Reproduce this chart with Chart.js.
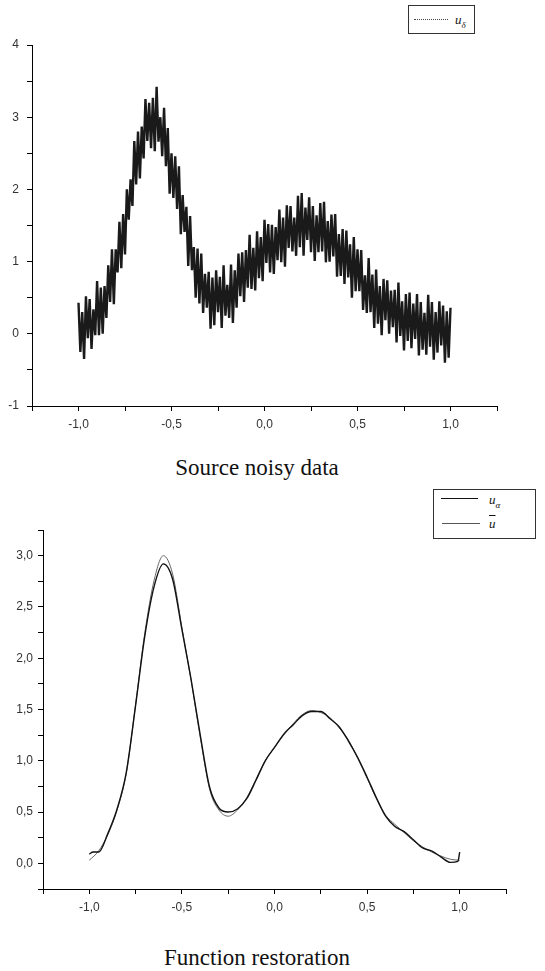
<!DOCTYPE html>
<html>
<head>
<meta charset="utf-8">
<script src="https://cdn.jsdelivr.net/npm/chart.js@4.4.0/dist/chart.umd.min.js"></script>
<style>
  body { margin: 0; background: #fff; }
  #page { position: relative; width: 545px; height: 971px; overflow: hidden; }
  canvas { position: absolute; left: 0; }
  .caption { position: absolute; left: 0; width: 514px; text-align: center; font-family: "Liberation Serif", serif; font-size: 23px; line-height: 23px; color: #111; }
  .legend { position: absolute; border: 1px solid #333; background: #fff; font-family: "Liberation Serif", serif; font-style: italic; font-size: 13px; color: #111; }
  .legend .sample { position: absolute; }
  .legend .lbl { position: absolute; line-height: 13px; }
</style>
</head>
<body>
<div id="page">
  <canvas id="noisy" width="545" height="440" style="top:0"></canvas>
  <canvas id="restored" width="545" height="440" style="top:480px"></canvas>

  <div class="legend" style="left:408px; top:5px; width:65px; height:27px;">
    <div class="sample" style="left:5px; top:13px; width:34px; border-top:1px dotted #444;"></div>
    <div class="lbl" style="left:46px; top:7px;">u<sub style="font-size:9px">δ</sub></div>
  </div>

  <div class="legend" style="left:433px; top:489px; width:101px; height:48px;">
    <div class="sample" style="left:7px; top:8px; width:37px; border-top:1.5px solid #111;"></div>
    <div class="sample" style="left:8px; top:33px; width:38px; border-top:1px solid #555;"></div>
    <div class="lbl" style="left:55px; top:3px;">u<sub style="font-size:9px">α</sub></div>
    <div class="lbl" style="left:55px; top:27px; text-decoration:overline;">u</div>
  </div>

  <div class="caption" style="top:456px;">Source noisy data</div>
  <div class="caption" style="top:946px;">Function restoration</div>
</div>
<script>
// noisy source samples u_delta
const noisyX = [
  -1.00, -0.99, -0.98, -0.97, -0.96, -0.95, -0.94, -0.93, -0.92, -0.91,
  -0.90, -0.89, -0.88, -0.87, -0.86, -0.85, -0.84, -0.83, -0.82, -0.81,
  -0.80, -0.79, -0.78, -0.77, -0.76, -0.75, -0.74, -0.73, -0.72, -0.71,
  -0.70, -0.69, -0.68, -0.67, -0.66, -0.65, -0.64, -0.63, -0.62, -0.61,
  -0.60, -0.59, -0.58, -0.57, -0.56, -0.55, -0.54, -0.53, -0.52, -0.51,
  -0.50, -0.49, -0.48, -0.47, -0.46, -0.45, -0.44, -0.43, -0.42, -0.41,
  -0.40, -0.39, -0.38, -0.37, -0.36, -0.35, -0.34, -0.33, -0.32, -0.31,
  -0.30, -0.29, -0.28, -0.27, -0.26, -0.25, -0.24, -0.23, -0.22, -0.21,
  -0.20, -0.19, -0.18, -0.17, -0.16, -0.15, -0.14, -0.13, -0.12, -0.11,
  -0.10, -0.09, -0.08, -0.07, -0.06, -0.05, -0.04, -0.03, -0.02, -0.01,
  0.00, 0.01, 0.02, 0.03, 0.04, 0.05, 0.06, 0.07, 0.08, 0.09,
  0.10, 0.11, 0.12, 0.13, 0.14, 0.15, 0.16, 0.17, 0.18, 0.19,
  0.20, 0.21, 0.22, 0.23, 0.24, 0.25, 0.26, 0.27, 0.28, 0.29,
  0.30, 0.31, 0.32, 0.33, 0.34, 0.35, 0.36, 0.37, 0.38, 0.39,
  0.40, 0.41, 0.42, 0.43, 0.44, 0.45, 0.46, 0.47, 0.48, 0.49,
  0.50, 0.51, 0.52, 0.53, 0.54, 0.55, 0.56, 0.57, 0.58, 0.59,
  0.60, 0.61, 0.62, 0.63, 0.64, 0.65, 0.66, 0.67, 0.68, 0.69,
  0.70, 0.71, 0.72, 0.73, 0.74, 0.75, 0.76, 0.77, 0.78, 0.79,
  0.80, 0.81, 0.82, 0.83, 0.84, 0.85, 0.86, 0.87, 0.88, 0.89,
  0.90, 0.91, 0.92, 0.93, 0.94, 0.95, 0.96, 0.97, 0.98, 0.99,
  1.00
];
const noisyY = [
  0.43, -0.25, 0.30, -0.35, 0.52, -0.06, 0.48, -0.21, 0.34, -0.02,
  0.73, -0.02, 0.64, 0.00, 0.66, 0.22, 0.95, 0.44, 1.17, 0.41,
  1.17, 0.85, 1.55, 0.91, 1.66, 1.10, 2.00, 1.58, 2.14, 1.77,
  2.67, 2.07, 2.80, 2.15, 2.87, 2.43, 3.25, 2.67, 3.20, 2.57,
  3.27, 2.53, 3.42, 2.66, 3.00, 2.46, 3.13, 2.32, 2.85, 1.94,
  2.50, 1.88, 2.46, 1.73, 2.32, 1.38, 1.92, 1.41, 1.76, 0.94,
  1.63, 0.88, 1.20, 0.50, 1.18, 0.42, 1.11, 0.29, 0.83, 0.36,
  0.86, 0.07, 0.78, 0.12, 0.88, 0.30, 0.79, 0.08, 0.95, 0.25,
  0.68, 0.22, 0.96, 0.15, 0.88, 0.36, 1.11, 0.52, 1.13, 0.44,
  1.16, 0.64, 1.37, 0.62, 1.19, 0.60, 1.42, 0.77, 1.34, 0.73,
  1.58, 0.98, 1.52, 0.85, 1.51, 0.83, 1.48, 1.02, 1.72, 0.99,
  1.61, 0.93, 1.78, 1.19, 1.77, 1.14, 1.61, 1.08, 1.91, 1.20,
  1.95, 1.08, 1.75, 1.30, 1.89, 1.13, 1.77, 1.01, 1.64, 1.13,
  1.81, 1.14, 1.83, 0.99, 1.56, 1.00, 1.65, 1.07, 1.66, 0.79,
  1.38, 0.80, 1.45, 0.69, 1.43, 0.78, 1.24, 0.50, 1.34, 0.59,
  1.17, 0.59, 1.16, 0.33, 0.81, 0.29, 1.05, 0.30, 0.82, 0.08,
  0.89, 0.14, 0.66, -0.02, 0.76, 0.19, 0.74, 0.00, 0.60, 0.09,
  0.61, -0.12, 0.71, -0.03, 0.45, -0.23, 0.55, -0.10, 0.57, -0.20,
  0.42, -0.07, 0.55, -0.30, 0.44, -0.22, 0.29, -0.29, 0.54, -0.18,
  0.44, -0.36, 0.30, -0.26, 0.45, -0.16, 0.39, -0.40, 0.31, -0.33,
  0.36
];

// exact function u-bar
const exactX = [
  -1.00, -0.95, -0.90, -0.85, -0.80, -0.75, -0.70, -0.65, -0.60, -0.55,
  -0.50, -0.45, -0.40, -0.35, -0.30, -0.25, -0.20, -0.15, -0.10, -0.05,
  0.00, 0.05, 0.10, 0.15, 0.20, 0.25, 0.30, 0.35, 0.40, 0.45,
  0.50, 0.55, 0.60, 0.65, 0.70, 0.75, 0.80, 0.85, 0.90, 0.95,
  1.00
];
const exactY = [
  0.03, 0.12, 0.28, 0.52, 0.88, 1.55, 2.25, 2.76, 3.00, 2.82,
  2.30, 1.78, 1.22, 0.72, 0.52, 0.46, 0.52, 0.64, 0.82, 1.00,
  1.13, 1.25, 1.36, 1.45, 1.49, 1.47, 1.42, 1.32, 1.20, 1.02,
  0.83, 0.63, 0.47, 0.38, 0.30, 0.22, 0.16, 0.11, 0.07, 0.04,
  0.03
];

// restored u_alpha
const alphaX = [
  -1.00, -0.98, -0.95, -0.90, -0.85, -0.80, -0.75, -0.70, -0.65, -0.60,
  -0.55, -0.50, -0.45, -0.40, -0.35, -0.30, -0.25, -0.20, -0.15, -0.10,
  -0.05, 0.00, 0.05, 0.10, 0.15, 0.20, 0.25, 0.30, 0.35, 0.40,
  0.45, 0.50, 0.55, 0.60, 0.65, 0.70, 0.75, 0.80, 0.85, 0.90,
  0.95, 0.99, 1.00
];
const alphaY = [
  0.09, 0.11, 0.11, 0.29, 0.53, 0.89, 1.54, 2.22, 2.70, 2.92,
  2.77, 2.28, 1.79, 1.24, 0.74, 0.54, 0.50, 0.53, 0.63, 0.81,
  1.00, 1.13, 1.26, 1.35, 1.44, 1.48, 1.48, 1.41, 1.33, 1.19,
  1.03, 0.84, 0.64, 0.46, 0.36, 0.31, 0.23, 0.15, 0.12, 0.06,
  0.01, 0.02, 0.11
];

const xRange = [-1.25, 1.25];   // same x axis on both charts
const yRangeTop = [-1, 4];
const yRangeBottom = [-0.25, 3.25];

const pts = (xs, ys) => xs.map((x, i) => ({ x: x, y: ys[i] }));
const isMult = (v, step) => Math.abs(v / step - Math.round(v / step)) < 1e-6;
const comma = (v, d) => v.toFixed(d).replace('.', ',');

const tickFont = { family: '"Liberation Sans", Arial, sans-serif', size: 12 };

function axes(yMin, yMax, yStep, yLabelStep, yDigits, yWidth, yPad, xHeight) {
  return {
    x: {
      type: 'linear',
      min: xRange[0],
      max: xRange[1],
      afterFit: (s) => { s.height = xHeight; },
      grid: { display: true, drawOnChartArea: false, drawTicks: true, tickLength: 5, color: '#000' },
      border: { display: true, color: '#000', width: 1 },
      ticks: {
        stepSize: 0.25,
        autoSkip: false,
        maxRotation: 0,
        padding: 6,
        color: '#333',
        font: tickFont,
        callback: (v) => isMult(v, 0.5) && Math.abs(v) <= 1 ? comma(v, 1) : ''
      }
    },
    y: {
      min: yMin,
      max: yMax,
      afterFit: (s) => { s.width = yWidth; },
      grid: { display: true, drawOnChartArea: false, drawTicks: true, tickLength: 5, color: '#000' },
      border: { display: true, color: '#000', width: 1 },
      ticks: {
        stepSize: yStep,
        autoSkip: false,
        padding: yPad,
        color: '#333',
        font: tickFont,
        callback: (v) => isMult(v, yLabelStep) ? comma(v, yDigits) : ''
      }
    }
  };
}

new Chart(document.getElementById('noisy').getContext('2d'), {
  type: 'line',
  data: {
    datasets: [{
      label: 'u_δ',
      data: pts(noisyX, noisyY),
      borderColor: '#1a1a1a',
      borderWidth: 2.4,
      pointRadius: 0,
      tension: 0,
      fill: false
    }]
  },
  options: {
    responsive: false,
    animation: false,
    devicePixelRatio: 1,
    layout: { padding: { top: 45, right: 48, left: 0, bottom: 0 } },
    plugins: { legend: { display: false }, tooltip: { enabled: false } },
    scales: axes(yRangeTop[0], yRangeTop[1], 0.5, 1, 0, 32, 8, 34)
  }
});

new Chart(document.getElementById('restored').getContext('2d'), {
  type: 'line',
  data: {
    datasets: [
      {
        label: 'u_α',
        data: pts(alphaX, alphaY),
        borderColor: '#111',
        borderWidth: 1.4,
        pointRadius: 0,
        cubicInterpolationMode: 'monotone',
        fill: false
      },
      {
        label: 'ū',
        data: pts(exactX, exactY),
        borderColor: '#666',
        borderWidth: 1,
        pointRadius: 0,
        cubicInterpolationMode: 'monotone',
        fill: false
      }
    ]
  },
  options: {
    responsive: false,
    animation: false,
    devicePixelRatio: 1,
    layout: { padding: { top: 50, right: 39, left: 0, bottom: 0 } },
    plugins: { legend: { display: false }, tooltip: { enabled: false } },
    scales: axes(yRangeBottom[0], yRangeBottom[1], 0.25, 0.5, 1, 43, 5, 31)
  }
});
</script>
</body>
</html>
